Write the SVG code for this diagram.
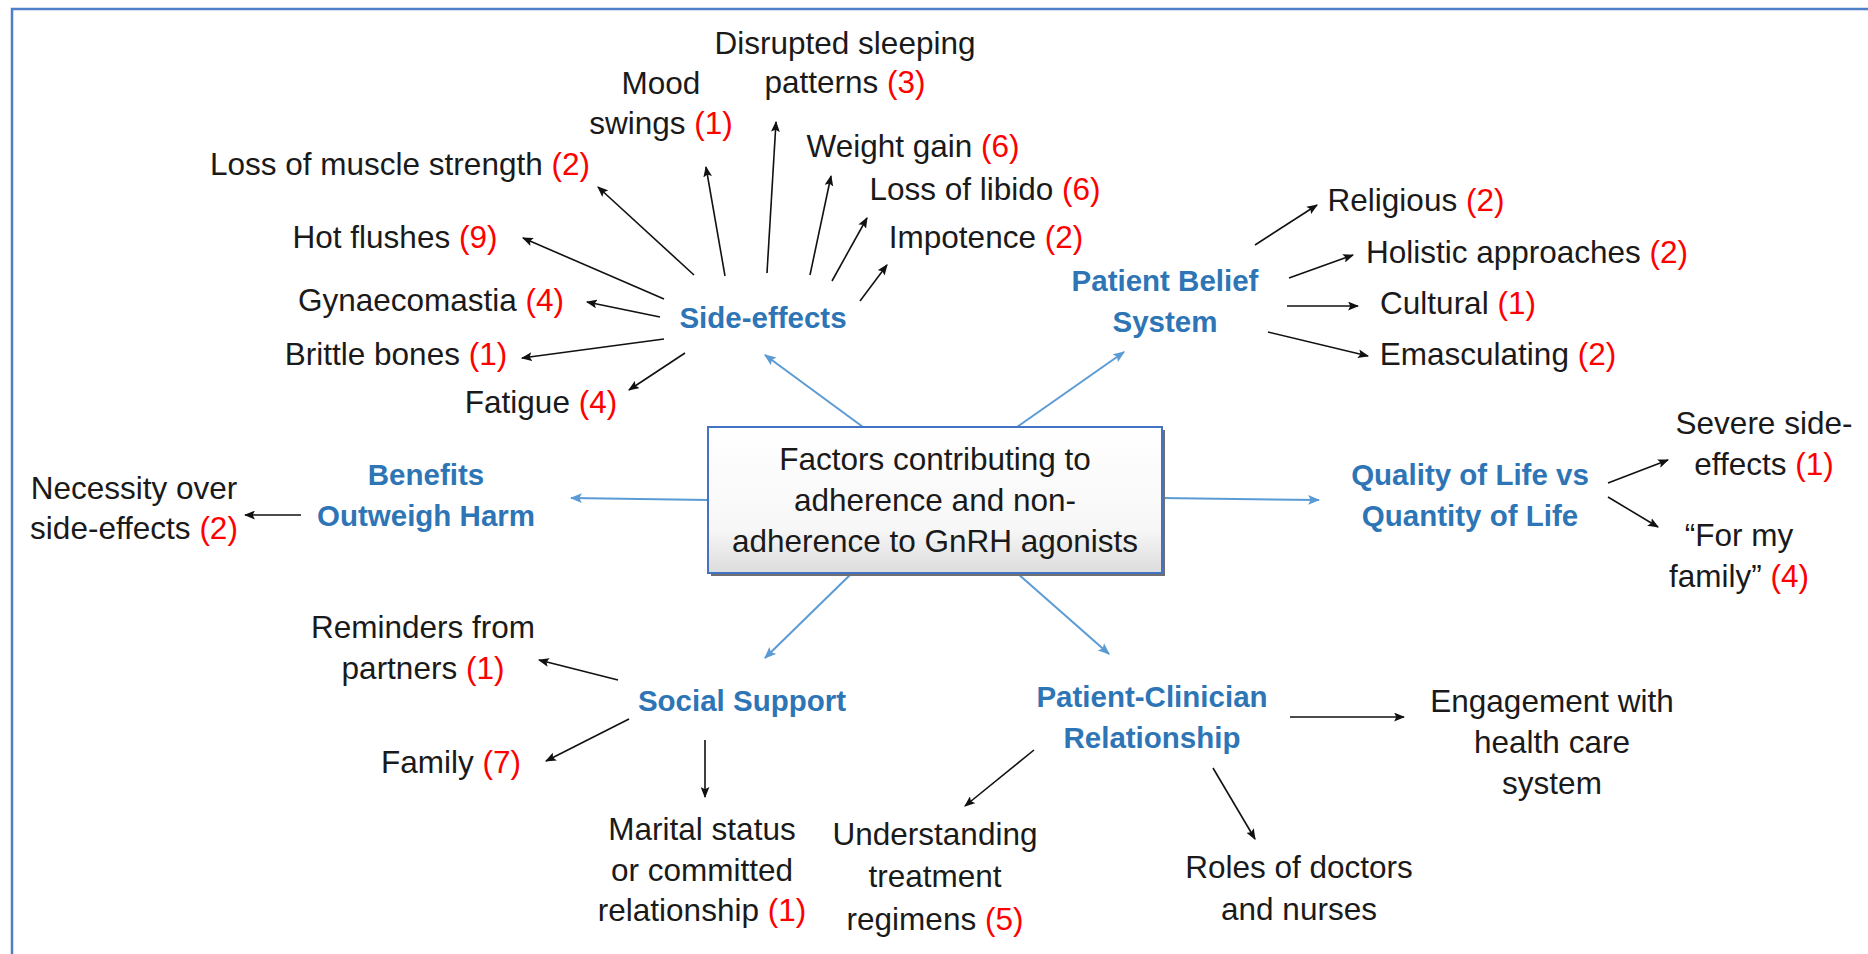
<svg xmlns="http://www.w3.org/2000/svg" width="1868" height="954" viewBox="0 0 1868 954">
<style>
text{font-family:"Liberation Sans",Arial,sans-serif;font-size:31.5px;fill:#1a1a1a;text-anchor:middle}
.h{font-weight:bold;font-size:29.5px;fill:#2E75B6}
.r{fill:#FF0000}
.k{stroke:#111;stroke-width:1.6;fill:none;marker-end:url(#ak)}
.b{stroke:#5B9BD5;stroke-width:2;fill:none;marker-end:url(#ab)}
</style>
<defs>
<marker id="ak" viewBox="0 0 10 8" refX="9" refY="4" markerWidth="11" markerHeight="9" orient="auto" markerUnits="userSpaceOnUse"><path d="M0,0 L10,4 L0,8 L2,4 z" fill="#111"/></marker>
<marker id="ab" viewBox="0 0 10 8" refX="9" refY="4" markerWidth="12" markerHeight="10" orient="auto" markerUnits="userSpaceOnUse"><path d="M0,0 L10,4 L0,8 L2,4 z" fill="#5B9BD5"/></marker>
<linearGradient id="g" x1="0" y1="0" x2="0" y2="1"><stop offset="0" stop-color="#ffffff"/><stop offset="0.7" stop-color="#f7f7f7"/><stop offset="1" stop-color="#dcdcdc"/></linearGradient>
</defs>
<rect width="1868" height="954" fill="#fff"/>
<path d="M12,954 L12,9 L1868,9" fill="none" stroke="#4F7FC8" stroke-width="2.5"/>

<g id="connectors">
<line class="b" x1="863" y1="427" x2="765" y2="355"/>
<line class="b" x1="1017" y1="427" x2="1124" y2="352"/>
<line class="b" x1="708" y1="500" x2="571" y2="498"/>
<line class="b" x1="1162" y1="498" x2="1319" y2="500"/>
<line class="b" x1="852" y1="573" x2="765" y2="658"/>
<line class="b" x1="1017" y1="573" x2="1109" y2="654"/>
<line class="k" x1="694" y1="275" x2="598" y2="187"/>
<line class="k" x1="725" y1="276" x2="706" y2="167"/>
<line class="k" x1="767" y1="273" x2="776" y2="122"/>
<line class="k" x1="810" y1="275" x2="831" y2="176"/>
<line class="k" x1="832" y1="281" x2="867" y2="218"/>
<line class="k" x1="860" y1="301" x2="887" y2="265"/>
<line class="k" x1="664" y1="299" x2="523" y2="238"/>
<line class="k" x1="660" y1="317" x2="587" y2="302"/>
<line class="k" x1="664" y1="339" x2="522" y2="358"/>
<line class="k" x1="685" y1="353" x2="629" y2="390"/>
<line class="k" x1="1255" y1="245" x2="1317" y2="205"/>
<line class="k" x1="1289" y1="278" x2="1353" y2="255"/>
<line class="k" x1="1287" y1="306" x2="1358" y2="306"/>
<line class="k" x1="1268" y1="332" x2="1368" y2="356"/>
<line class="k" x1="1608" y1="483" x2="1668" y2="460"/>
<line class="k" x1="1608" y1="497" x2="1658" y2="527"/>
<line class="k" x1="301" y1="515" x2="245" y2="515"/>
<line class="k" x1="618" y1="680" x2="539" y2="660"/>
<line class="k" x1="629" y1="719" x2="546" y2="761"/>
<line class="k" x1="705" y1="740" x2="705" y2="797"/>
<line class="k" x1="1290" y1="717" x2="1404" y2="717"/>
<line class="k" x1="1034" y1="750" x2="965" y2="806"/>
<line class="k" x1="1213" y1="768" x2="1255" y2="839"/>
</g>

<g id="center">
<rect x="711" y="430" width="454" height="146" fill="#6f6f6f"/>
<rect x="708" y="427" width="454" height="146" fill="url(#g)" stroke="#4472C4" stroke-width="2"/>
<text x="935" y="470">Factors contributing to</text>
<text x="935" y="511">adherence and non-</text>
<text x="935" y="552">adherence to GnRH agonists</text>
</g>

<g id="side-effects">
<text class="h" x="763" y="328">Side-effects</text>
</g>
<g id="disrupted-sleeping"><text x="845" y="54">Disrupted sleeping</text><text x="845" y="93">patterns <tspan class="r">(3)</tspan></text></g>
<g id="mood-swings"><text x="661" y="94">Mood</text><text x="661" y="134">swings <tspan class="r">(1)</tspan></text></g>
<g id="muscle"><text x="400" y="175">Loss of muscle strength <tspan class="r">(2)</tspan></text></g>
<g id="weight"><text x="913" y="157">Weight gain <tspan class="r">(6)</tspan></text></g>
<g id="libido"><text x="985" y="200">Loss of libido <tspan class="r">(6)</tspan></text></g>
<g id="impotence"><text x="986" y="248">Impotence <tspan class="r">(2)</tspan></text></g>
<g id="hot-flushes"><text x="395" y="248">Hot flushes <tspan class="r">(9)</tspan></text></g>
<g id="gynaecomastia"><text x="431" y="311">Gynaecomastia <tspan class="r">(4)</tspan></text></g>
<g id="brittle"><text x="396" y="365">Brittle bones <tspan class="r">(1)</tspan></text></g>
<g id="fatigue"><text x="541" y="413">Fatigue <tspan class="r">(4)</tspan></text></g>

<g id="belief"><text class="h" x="1165" y="291">Patient Belief</text><text class="h" x="1165" y="332">System</text></g>
<g id="religious"><text x="1416" y="211">Religious <tspan class="r">(2)</tspan></text></g>
<g id="holistic"><text x="1527" y="263">Holistic approaches <tspan class="r">(2)</tspan></text></g>
<g id="cultural"><text x="1458" y="314">Cultural <tspan class="r">(1)</tspan></text></g>
<g id="emasculating"><text x="1498" y="365">Emasculating <tspan class="r">(2)</tspan></text></g>

<g id="quality"><text class="h" x="1470" y="485">Quality of Life vs</text><text class="h" x="1470" y="526">Quantity of Life</text></g>
<g id="severe"><text x="1764" y="434">Severe side-</text><text x="1764" y="475">effects <tspan class="r">(1)</tspan></text></g>
<g id="for-my-family"><text x="1739" y="546">“For my</text><text x="1739" y="587">family” <tspan class="r">(4)</tspan></text></g>

<g id="benefits"><text class="h" x="426" y="485">Benefits</text><text class="h" x="426" y="526">Outweigh Harm</text></g>
<g id="necessity"><text x="134" y="499">Necessity over</text><text x="134" y="539">side-effects <tspan class="r">(2)</tspan></text></g>

<g id="social"><text class="h" x="742" y="711">Social Support</text></g>
<g id="reminders"><text x="423" y="638">Reminders from</text><text x="423" y="679">partners <tspan class="r">(1)</tspan></text></g>
<g id="family"><text x="451" y="773">Family <tspan class="r">(7)</tspan></text></g>
<g id="marital"><text x="702" y="840">Marital status</text><text x="702" y="881">or committed</text><text x="702" y="921">relationship <tspan class="r">(1)</tspan></text></g>

<g id="clinician"><text class="h" x="1152" y="707">Patient-Clinician</text><text class="h" x="1152" y="748">Relationship</text></g>
<g id="engagement"><text x="1552" y="712">Engagement with</text><text x="1552" y="753">health care</text><text x="1552" y="794">system</text></g>
<g id="roles"><text x="1299" y="878">Roles of doctors</text><text x="1299" y="920">and nurses</text></g>
<g id="understanding"><text x="935" y="845">Understanding</text><text x="935" y="887">treatment</text><text x="935" y="930">regimens <tspan class="r">(5)</tspan></text></g>
</svg>
